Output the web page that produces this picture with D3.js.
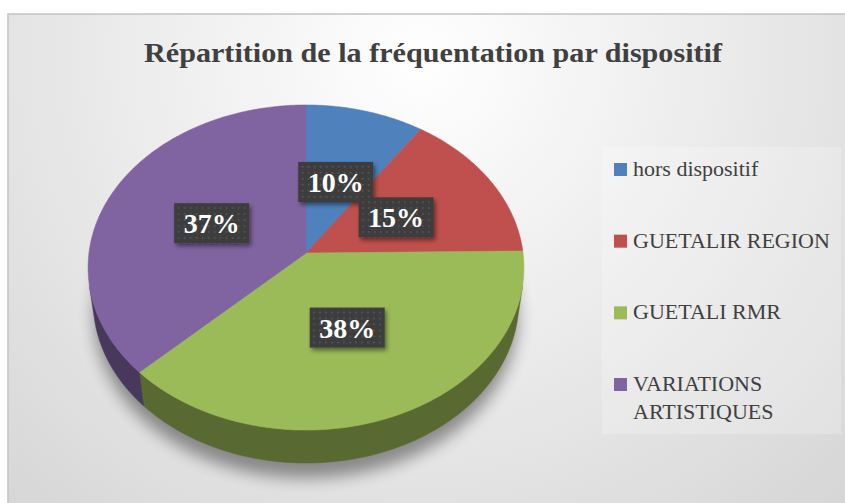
<!DOCTYPE html>
<meta charset="utf-8">
<script src="https://cdnjs.cloudflare.com/ajax/libs/d3/7.8.5/d3.min.js"></script>
<style>
body { margin: 0; background: #fff; }
</style>
<body>
<script>

// data
var categories = ["hors dispositif", "GUETALIR REGION", "GUETALI RMR", "VARIATIONS ARTISTIQUES"];
var values = [9.6, 15.2, 38.0, 37.2];
var labels = ["10%", "15%", "38%", "37%"];
var colors = ["#4f81bd", "#c0504d", "#9bbb59", "#8064a2"];

var W = 845, H = 503;

var svg = d3.select("body").append("svg")
  .attr("width", W)
  .attr("height", H);

var defs = svg.append("defs");

// background gradient
var bg = defs.append("radialGradient").attr("id", "bg")
  .attr("gradientUnits", "userSpaceOnUse")
  .attr("cx", 420).attr("cy", 60).attr("r", 640);
bg.append("stop").attr("offset", "0").attr("stop-color", "#ffffff");
bg.append("stop").attr("offset", "0.45").attr("stop-color", "#ececec");
bg.append("stop").attr("offset", "1").attr("stop-color", "#d4d4d4");

var blur = defs.append("filter").attr("id", "blur")
  .attr("x", "-20%").attr("y", "-20%").attr("width", "140%").attr("height", "140%");
blur.append("feGaussianBlur").attr("stdDeviation", 8);

var ds = defs.append("filter").attr("id", "ds")
  .attr("x", "-30%").attr("y", "-30%").attr("width", "160%").attr("height", "160%");
ds.append("feDropShadow").attr("dx", 2).attr("dy", 3).attr("stdDeviation", 2)
  .attr("flood-color", "#000").attr("flood-opacity", 0.45);

var pat = defs.append("pattern").attr("id", "dots")
  .attr("patternUnits", "userSpaceOnUse").attr("width", 6).attr("height", 6);
pat.append("rect").attr("width", 6).attr("height", 6).attr("fill", "#3c3c3c");
pat.append("rect").attr("x", 2).attr("y", 2).attr("width", 1.6).attr("height", 1.6).attr("fill", "#5a5a5a");

// chart area
svg.append("rect")
  .attr("x", 8).attr("y", 14)
  .attr("width", W).attr("height", H)
  .attr("fill", "url(#bg)")
  .attr("stroke", "#c4c4c4")
  .attr("stroke-width", 1.5);

svg.append("text")
  .attr("x", 144).attr("y", 62)
  .attr("textLength", 578)
  .attr("lengthAdjust", "spacingAndGlyphs")
  .style("font-family", "'Liberation Serif', serif")
  .style("font-weight", "bold")
  .style("font-size", "28px")
  .attr("fill", "#404040")
  .text("Répartition de la fréquentation par dispositif");

// perspective projection of the pie disk
var cx = 306, cy = 253, F = 1628, D = 7.5;
var phi = Math.asin(0.743), sp = Math.sin(phi), cp = Math.cos(phi);
var depth = 0.241;

function proj(a, r, h) {
  // a: angle clockwise from top, r: radius fraction, h: height below top face
  var u = r * Math.sin(a), v = -r * Math.cos(a);
  var z = D + h * sp - v * cp;
  var yc = h * cp + v * sp;
  return [cx + F * u / z, cy + F * yc / z];
}

var pie = d3.pie().sort(null).value(function(d) { return d; });
var arcs = pie(values);

var line = d3.line();

function rim(a0, a1, h) {
  var n = Math.max(2, Math.ceil((a1 - a0) / 0.01));
  return d3.range(n + 1).map(function(i) { return proj(a0 + (a1 - a0) * i / n, 1, h); });
}

// visible side range
var k = 1 / (D * cp);
var s0 = Math.acos(-k), s1 = 2 * Math.PI - s0;

// shadow
var g = svg.append("g");
g.append("path")
  .attr("d", line(rim(0, 2 * Math.PI, depth + 0.06)) + "Z")
  .attr("transform", "translate(0,7)")
  .attr("fill", "#000")
  .attr("opacity", 0.4)
  .attr("filter", "url(#blur)");

// sides
arcs.forEach(function(d, i) {
  var a0 = Math.max(d.startAngle, s0), a1 = Math.min(d.endAngle, s1);
  if (a1 <= a0) return;
  var c = d3.color(colors[i]).darker(1.6);
  var pts = rim(a0, a1, 0).concat(rim(a0, a1, depth).reverse());
  g.append("path")
    .attr("d", line(pts) + "Z")
    .attr("fill", c)
    .attr("stroke", c)
    .attr("stroke-width", 0.5);
});

// top faces
arcs.forEach(function(d, i) {
  var pts = [proj(0, 0, 0)].concat(rim(d.startAngle, d.endAngle, 0));
  g.append("path")
    .attr("d", line(pts) + "Z")
    .attr("fill", colors[i])
    .attr("stroke", colors[i])
    .attr("stroke-width", 0.5);
});

// data labels
arcs.forEach(function(d, i) {
  var p = proj((d.startAngle + d.endAngle) / 2, 0.48, 0);
  var lg = g.append("g").attr("transform", "translate(" + p[0] + "," + p[1] + ")");
  lg.append("rect")
    .attr("x", -37.5).attr("y", -20)
    .attr("width", 75).attr("height", 40)
    .attr("fill", "url(#dots)")
    .attr("filter", "url(#ds)");
  lg.append("text")
    .attr("text-anchor", "middle")
    .attr("y", 10)
    .style("font-family", "'Liberation Serif', serif")
    .style("font-weight", "bold")
    .style("font-size", "28px")
    .attr("fill", "#fff")
    .text(labels[i]);
});

// legend
svg.append("rect")
  .attr("x", 602).attr("y", 147)
  .attr("width", 239).attr("height", 287)
  .attr("fill", "#fff").attr("opacity", 0.22);

var legY = d3.scalePoint().domain(categories).range([169.5, 384.5]);

var leg = svg.selectAll(".leg").data(categories).enter().append("g")
  .attr("class", "leg")
  .attr("transform", function(d) { return "translate(614," + legY(d) + ")"; });

leg.append("rect")
  .attr("x", 0).attr("y", -6.5)
  .attr("width", 13).attr("height", 13)
  .attr("fill", function(d, i) { return colors[i]; });

leg.append("text")
  .attr("x", 19).attr("y", 6.5)
  .style("font-family", "'Liberation Serif', serif")
  .style("font-size", "22px")
  .attr("fill", "#404040")
  .each(function(d) {
    var t = d3.select(this);
    var words = d === "VARIATIONS ARTISTIQUES" ? ["VARIATIONS", "ARTISTIQUES"] : [d];
    words.forEach(function(w, j) {
      t.append("tspan").attr("x", 19).attr("dy", j ? 27.5 : 0).text(w);
    });
  });

</script>
</body>
</html>
